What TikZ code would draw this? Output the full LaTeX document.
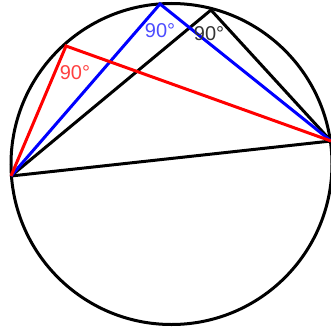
\documentclass[tikz,border=0pt]{standalone}
\usepackage{fontspec}
\setmainfont{Liberation Sans}
\usepackage{tikz}
\usetikzlibrary{positioning}
\tikzset{
    % Line styles
    rim/.style={draw=black, line width=3pt},
    chord/.style={line width=3pt, line join=miter},
    % Label styles
    angle label/.style={font=\fontsize{20}{20}\selectfont, inner sep=0pt},
}

\begin{document}
\begin{tikzpicture}[x=1pt, y=-1pt]
    \useasboundingbox (0, 0) rectangle (331, 332);

    % Circle
    \coordinate (centre) at (171.5, 164);
    \draw[rim] (centre) circle[radius=160.5];

    % Diameter ends and vertices on the circle
    \coordinate (left) at (11, 176);
    \coordinate (right) at (331, 141);
    \coordinate (redtop) at (66, 46);
    \coordinate (bluetop) at (160, 4);
    \coordinate (blacktop) at (211, 10);

    % Diameter
    \draw[chord, black] (left) -- (right);

    % Right triangles
    \draw[chord, black] (left) -- (blacktop) -- (right);
    \draw[chord, blue] (left) -- (bluetop) -- (right);
    \draw[chord, red] (left) -- (redtop) -- (right);

    % Angle labels
    \node[angle label, text=red!75] (redangle) at (75, 73) {90°};
    \node[angle label, text=blue!70] (blueangle) at (160, 31) {90°};
    \node[angle label, text=black!80] (blackangle) at (209, 34) {90°};
\end{tikzpicture}
\end{document}
